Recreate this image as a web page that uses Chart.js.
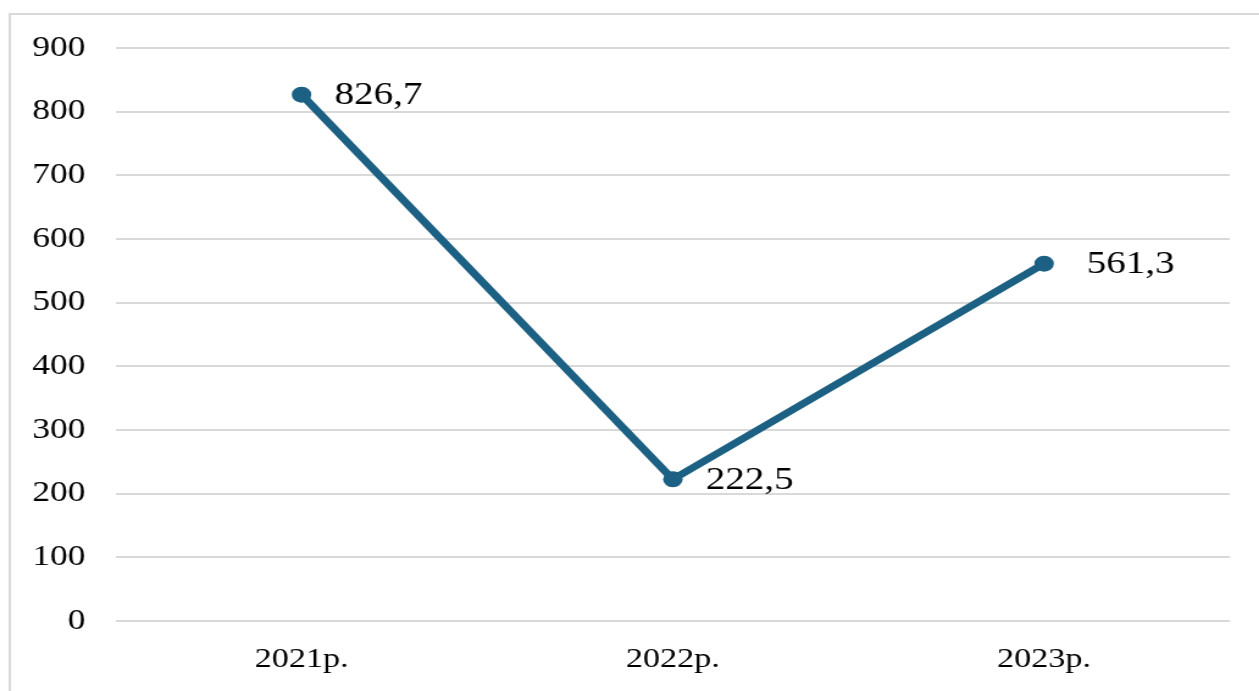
<!DOCTYPE html>
<html>
<head>
<meta charset="utf-8">
<script src="https://cdn.jsdelivr.net/npm/chart.js@4"></script>
<style>
  html, body { margin: 0; padding: 0; background: #fff; overflow: hidden; }
  /* drawn narrower and stretched sideways, like the source picture */
  #wrap { width: 1032px; height: 691px; transform: scaleX(1.22); transform-origin: 0 0; }
  #chart { display: block; }
</style>
</head>
<body>
<div id="wrap"><canvas id="chart" width="1032" height="691"></canvas></div>
<script>
const years = ['2021р.', '2022р.', '2023р.'];
const values = [826.7, 222.5, 561.3];
const yTicks = [0, 100, 200, 300, 400, 500, 600, 700, 800, 900];

const lineColor = '#1c6083';
const serif = "'Liberation Serif', 'Times New Roman', serif";
const labelGap = [27, 27, 35];

// white page with the light grey frame around the chart
const framePlugin = {
  id: 'frame',
  beforeDraw(chart) {
    const ctx = chart.ctx;
    ctx.save();
    ctx.fillStyle = '#fff';
    ctx.fillRect(0, 0, chart.width, chart.height);
    ctx.strokeStyle = '#d9d9d9';
    ctx.lineWidth = 2;
    ctx.strokeRect(8, 14, chart.width + 10, chart.height + 10);
    ctx.restore();
  }
};

// value labels to the right of each point
const valueLabels = {
  id: 'valueLabels',
  afterDatasetsDraw(chart) {
    const ctx = chart.ctx;
    const meta = chart.getDatasetMeta(0);
    ctx.save();
    ctx.font = '32px ' + serif;
    ctx.fillStyle = '#000';
    ctx.textAlign = 'left';
    ctx.textBaseline = 'middle';
    meta.data.forEach(function(pt, i) {
      const txt = String(values[i]).replace('.', ',');
      ctx.fillText(txt, pt.x + labelGap[i], pt.y + 1);
    });
    ctx.restore();
  }
};

const ctx = document.getElementById('chart').getContext('2d');
const chart = new Chart(ctx, {
  type: 'line',
  data: {
    labels: years,
    datasets: [{
      data: values,
      borderColor: lineColor,
      backgroundColor: lineColor,
      borderWidth: 7,
      pointRadius: 8,
      pointHoverRadius: 8,
      pointBackgroundColor: lineColor,
      pointBorderWidth: 0,
      tension: 0,
      fill: false
    }]
  },
  options: {
    responsive: false,
    animation: false,
    devicePixelRatio: 1,
    layout: { padding: { left: 0, right: 24, top: 48, bottom: 0 } },
    plugins: {
      legend: { display: false },
      tooltip: { enabled: false }
    },
    scales: {
      x: {
        offset: true,
        grid: { display: false, drawTicks: false },
        border: { display: false },
        ticks: {
          color: '#000',
          font: { family: serif, size: 28 },
          padding: 22,
          maxRotation: 0
        },
        afterFit(scale) { scale.height = 70; }
      },
      y: {
        min: 0,
        max: 900,
        afterBuildTicks(scale) {
          scale.ticks = yTicks.map(v => ({ value: v }));
        },
        grid: { color: '#d9d9d9', lineWidth: 2, drawTicks: false },
        border: { display: false },
        ticks: {
          color: '#000',
          font: { family: serif, size: 29 },
          padding: 25
        },
        afterFit(scale) { scale.width = 95; }
      }
    }
  },
  plugins: [framePlugin, valueLabels]
});
</script>
</body>
</html>
